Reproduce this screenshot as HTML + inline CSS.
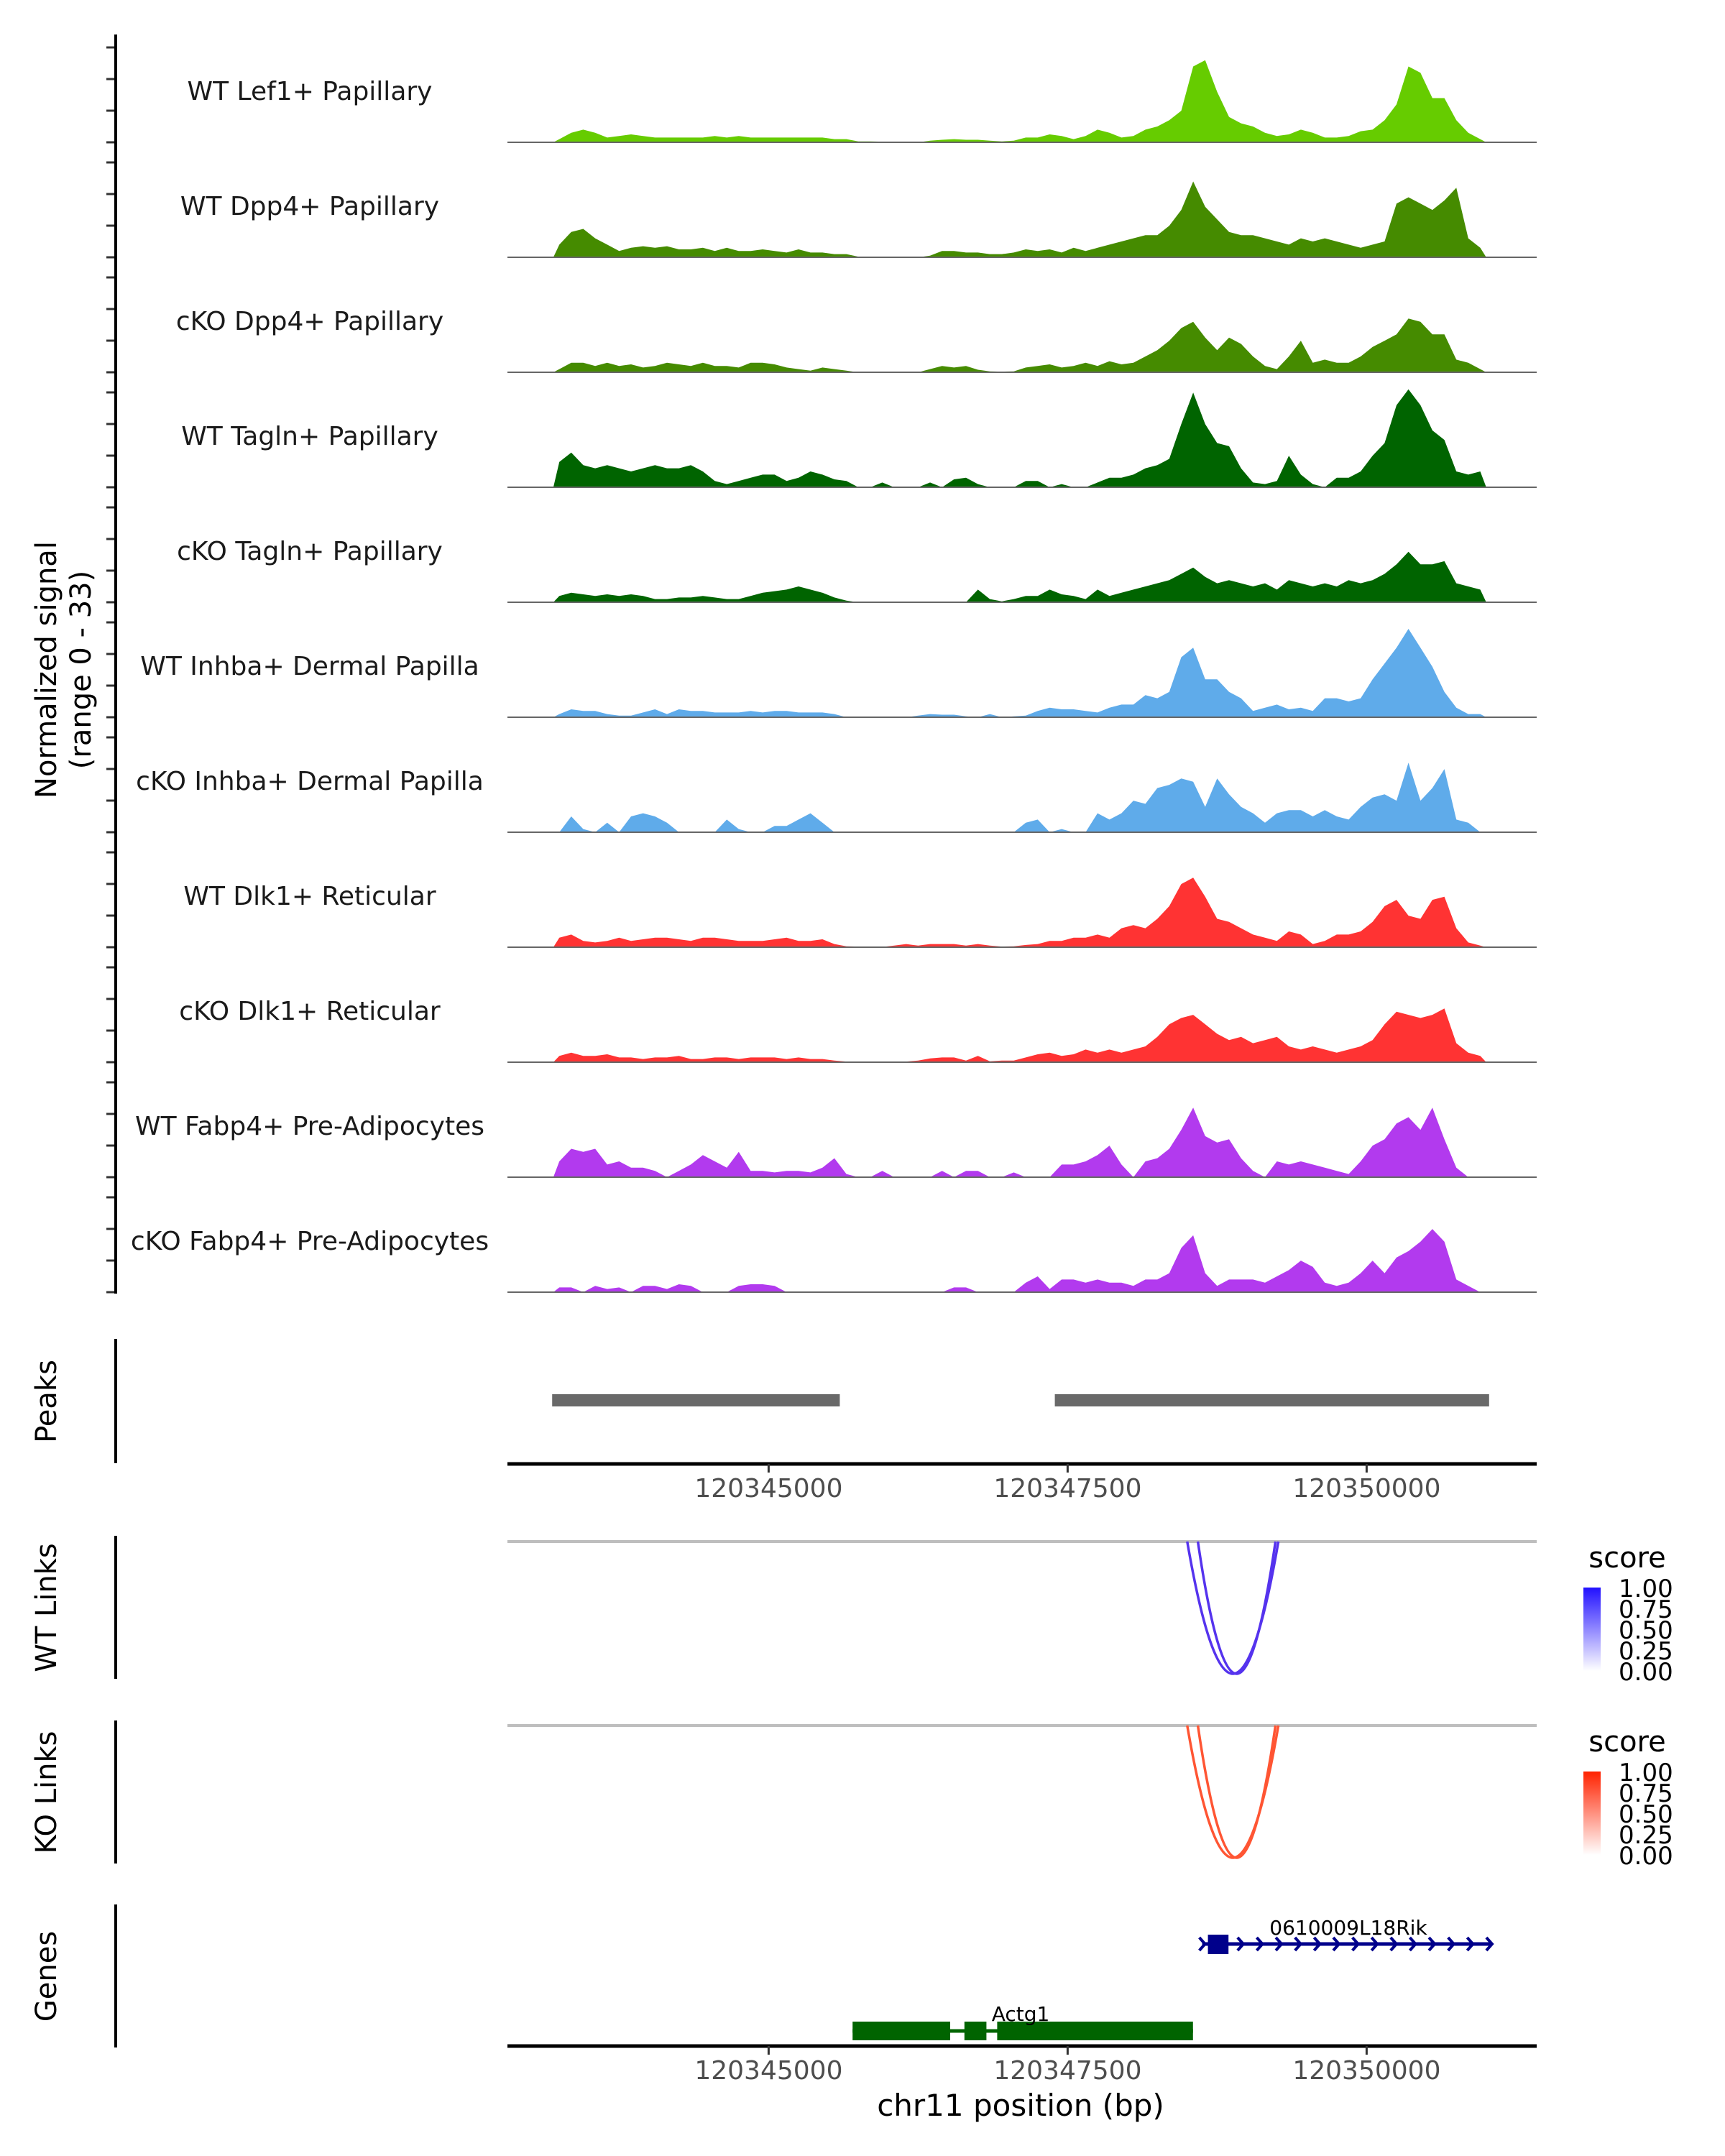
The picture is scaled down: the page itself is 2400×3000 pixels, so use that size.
<!DOCTYPE html>
<html><head><meta charset="utf-8">
<style>
html,body{margin:0;padding:0;background:#fff;}
svg{display:block;font-family:"DejaVu Sans","Liberation Sans",sans-serif;}
</style></head>
<body>
<svg id="chart" width="2400" height="3000" viewBox="0 0 2400 3000" xmlns="http://www.w3.org/2000/svg">
  <rect x="0" y="0" width="2400" height="3000" fill="#fff"/>
  <g id="tracks"></g>
  <g id="axes"></g>
  <g id="peaks"></g>
  <g id="links"></g>
  <g id="genes"></g>
  <text x="0" y="0" transform="translate(78,932) rotate(-90)" text-anchor="middle" font-size="40" fill="#000">Normalized signal</text>
  <text x="0" y="0" transform="translate(126,932) rotate(-90)" text-anchor="middle" font-size="40" fill="#000">(range 0 - 33)</text>
  <text x="0" y="0" transform="translate(78,1950) rotate(-90)" text-anchor="middle" font-size="40" fill="#000">Peaks</text>
  <text x="0" y="0" transform="translate(78,2237) rotate(-90)" text-anchor="middle" font-size="40" fill="#000">WT Links</text>
  <text x="0" y="0" transform="translate(78,2494) rotate(-90)" text-anchor="middle" font-size="40" fill="#000">KO Links</text>
  <text x="0" y="0" transform="translate(78,2750) rotate(-90)" text-anchor="middle" font-size="40" fill="#000">Genes</text>
  <text x="1420" y="2944" text-anchor="middle" font-size="42" fill="#000">chr11 position (bp)</text>
</svg>
<script>
const NS = "http://www.w3.org/2000/svg";
// ---- data ----
const binStart = 120343200;
const binSize = 100;
const trackNames = ["WT Lef1+ Papillary","WT Dpp4+ Papillary","cKO Dpp4+ Papillary","WT Tagln+ Papillary","cKO Tagln+ Papillary","WT Inhba+ Dermal Papilla","cKO Inhba+ Dermal Papilla","WT Dlk1+ Reticular","cKO Dlk1+ Reticular","WT Fabp4+ Pre-Adipocytes","cKO Fabp4+ Pre-Adipocytes"];
const trackColors = ["#66cc00","#458b00","#458b00","#006400","#006400","#5fabea","#5fabea","#ff3333","#ff3333","#b23aee","#b23aee"];
const sigLef1WT = [1,3,4,3,1.5,2,2.5,2,1.5,1.5,1.5,1.5,1.5,2,1.5,2,1.5,1.5,1.5,1.5,1.5,1.5,1.5,1,1,0.3,0.3,0.2,0.1,0,0,0.5,0.8,1,0.8,0.8,0.5,0.3,0.5,1.5,1.5,2.5,2,1,2,4,3,1.5,2,4,5,7,10,24,26,16,8,6,5,3,2,2.5,4,3,1.5,1.5,2,3.5,4,7,12,24,22,14,14,7,3,1];
const sigDpp4WT = [4,8,9,6,4,2,3,3.5,3,3.5,2.5,2.5,3,2,3,2,2,2.5,2,1.5,2.5,1.5,1.5,1,1,0.2,0.2,0,0,0,0,0.5,2,2,1.5,1.5,1,1,1.5,2.5,2,2.5,1.5,3,2,3,4,5,6,7,7,10,15,24,16,12,8,7,7,6,5,4,6,5,6,5,4,3,4,5,17,19,17,15,18,22,6,3];
const sigDpp4KO = [1,3,3,2,3,2,2.5,1.5,2,3,2.5,2,3,2,2,1.5,3,3,2.5,1.5,1,0.5,1.5,1,0.5,0,0,0,0,0,0,1,2,1.5,2,0.8,0.3,0.2,0.3,1.5,2,2.5,1.5,2,3,2,3.5,2.5,3,5,7,10,14,16,11,7,11,9,5,2,1,5,10,3,4,3,3,5,8,10,12,17,16,12,12,4,3,1];
const sigTaglnWT = [8,11,7,6,7,6,5,6,7,6,6,7,5,2,1,2,3,4,4,2,3,5,4,2.5,2,0,0,1.5,0,0,0,1.5,0,2.5,3,1,0,0,0,2,2,0,1,0,0,1.5,3,3,4,6,7,9,20,30,20,14,13,6,1.5,1,2,10,4,1,0,3,3,5,10,14,26,31,26,18,15,5,4,5];
const sigTaglnKO = [2,3,2.5,2,2.5,2,2.5,2,1,1,1.5,1.5,2,1.5,1,1,2,3,3.5,4,5,4,3,1.5,0.5,0,0,0,0,0,0,0,0,0,0,4,1,0.3,1,2,2,4,2.5,2,1,4,2,3,4,5,6,7,9,11,8,6,7,6,5,6,4,7,6,5,6,5,7,6,7,9,12,16,12,12,13,6,5,4];
const sigInhbaWT = [1,2.5,2,2,1,0.5,0.5,1.5,2.5,1,2.5,2,2,1.5,1.5,1.5,2,1.5,2,2,1.5,1.5,1.5,1,0,0,0,0,0,0,0.5,1,0.8,0.8,0.3,0,1,0,0.3,0.5,2,3,2.5,2.5,2,1.5,3,4,4,7,6,8,19,22,12,12,8,6,2,3,4,2.5,3,2,6,6,5,6,12,17,22,28,22,16,8,3,1,1];
const sigInhbaKO = [0,5,1,0,3,0,5,6,5,3,0,0,0,0,4,1,0,0,2,2,4,6,3,0,0,0,0,0,0,0,0,0,0,0,0,0,0,0,0,3,4,0,1,0,0,6,4,6,10,9,14,15,17,16,8,17,12,8,6,3,6,7,7,5,7,5,4,8,11,12,10,22,10,14,20,4,3,0];
const sigDlk1WT = [3,4,2,1.5,2,3,2,2.5,3,3,2.5,2,3,3,2.5,2,2,2,2.5,3,2,2,2.5,1,0.3,0.2,0.2,0.1,0.5,1,0.5,1,1,1,0.5,1,0.5,0.2,0.3,0.7,1,2,2,3,3,4,3,6,7,6,9,13,20,22,16,9,8,6,4,3,2,5,4,1,2,4,4,5,8,13,15,10,9,15,16,6,1.5,0.5];
const sigDlk1KO = [2,3,2,2,2.5,1.5,1.5,1,1.5,1.5,2,1,1,1.5,1.5,1,1.5,1.5,1.5,1,1.5,1,1,0.5,0.2,0.2,0.2,0.2,0.2,0.2,0.5,1.2,1.5,1.5,0.5,2,0.3,0.5,0.5,1.5,2.5,3,2,2.5,4,3,4,3,4,5,8,12,14,15,12,9,7,8,6,7,8,5,4,5,4,3,4,5,7,12,16,15,14,15,17,6,3,2];
const sigFabp4WT = [5,9,8,9,4,5,3,3,2,0,2,4,7,5,3,8,2,2,1.5,2,2,1.5,3,6,1,0,0,2,0,0,0,0,2,0,2,2,0,0,1.5,0,0,0,4,4,5,7,10,4,0,5,6,9,15,22,13,11,12,6,2,0,5,4,5,4,3,2,1,5,10,12,17,19,15,22,12,3,0,0];
const sigFabp4KO = [1.5,1.5,0,2,1,1.5,0,2,2,1,2.5,2,0,0,0,2,2.5,2.5,2,0,0,0,0,0,0,0,0,0,0,0,0,0,0,1.5,1.5,0,0,0,0,3,5,1,4,4,3,4,3,3,2,4,4,6,14,18,6,2,4,4,4,3,5,7,10,8,3,2,3,6,10,6,11,13,16,20,16,4,2,0];
const trackSignals = [sigLef1WT,sigDpp4WT,sigDpp4KO,sigTaglnWT,sigTaglnKO,sigInhbaWT,sigInhbaKO,sigDlk1WT,sigDlk1KO,sigFabp4WT,sigFabp4KO];
const signalMax = 33;
const xTicks = [120345000,120347500,120350000];
const peakStarts = [120343190,120347393];
const peakEnds = [120345595,120351024];
const wtLinkStarts = [120348500,120348589];
const wtLinkEnds = [120349262,120349238];
const koLinkStarts = [120348500,120348589];
const koLinkEnds = [120349262,120349238];
const legendTicks = ["1.00","0.75","0.50","0.25","0.00"];
const geneRikStart = 120348625, geneRikEnd = 120351048, geneRikExonStart = 120348673, geneRikExonEnd = 120348845;
const actgStart = 120345702, actgEnd = 120348548;
const actgExonStarts = [120345702,120346637,120346911];
const actgExonEnds = [120346518,120346821,120348548];

// ---- scales ----
const plotL = 706, plotR = 2138;
function xs(bp){ return 1069.4 + (bp - 120345000) * 0.1664; }
const trackBase0 = 198, trackStep = 160, trackH = 145;
function ys(v, k){ return trackBase0 + k*trackStep - v / signalMax * trackH; }
function mk(tag, attrs, parent){ const e = document.createElementNS(NS, tag); for (const a in attrs) e.setAttribute(a, attrs[a]); parent.appendChild(e); return e; }

const gT = document.getElementById('tracks');
const gA = document.getElementById('axes');
trackSignals.forEach(function(sig, k){
  const base = trackBase0 + k*trackStep;
  let d = "M" + xs(binStart).toFixed(1) + "," + base;
  sig.forEach(function(v, i){
    const xc = xs(binStart + (i+0.5)*binSize);
    d += " L" + xc.toFixed(1) + "," + ys(v,k).toFixed(1);
  });
  d += " L" + xs(binStart + sig.length*binSize).toFixed(1) + "," + base + " Z";
  const p = mk('path', {d: d, fill: trackColors[k]}, gT);
  
  
  const bl = mk('line', {x1: plotL, x2: plotR, y1: base, y2: base, stroke: '#666', 'stroke-width': 2}, gT);
  
  
  const t = mk('text', {x: 431, y: base - 59, 'text-anchor': 'middle', 'font-size': 36, fill: '#1a1a1a'}, gT);
  t.textContent = trackNames[k];
  
  
  for (let j = 0; j < 4; j++){
    const ty = base - j*44;
    const tk = mk('line', {x1: 148, x2: 161, y1: ty, y2: ty, stroke: '#333', 'stroke-width': 3}, gA);
    
    
  }
});
// left axis lines
[[48,1800],[1863,2036],[2137,2336],[2394,2593],[2650,2849]].forEach(function(r){
  const l = mk('line', {x1: 161, x2: 161, y1: r[0], y2: r[1], stroke: '#000', 'stroke-width': 4}, gA);
  
  
});
// x axes
[[2037,2070],[2847,2880]].forEach(function(r){
  const l = mk('line', {x1: plotL, x2: plotR, y1: r[0], y2: r[0], stroke: '#000', 'stroke-width': 5}, gA);
  
  
  xTicks.forEach(function(v){
    const tk = mk('line', {x1: xs(v), x2: xs(v), y1: r[0], y2: r[0]+12, stroke: '#333', 'stroke-width': 3}, gA);
    
    
    const tl = mk('text', {x: xs(v), y: r[1]+13, 'text-anchor': 'middle', 'font-size': 36, fill: '#4d4d4d'}, gA);
    tl.textContent = String(v);
    
    
  });
});
// peaks
const gP = document.getElementById('peaks');
peakStarts.forEach(function(s, i){
  const r = mk('rect', {x: xs(s), y: 1940, width: xs(peakEnds[i]) - xs(s), height: 17, fill: '#696969'}, gP);
  
  
});
// links
const gL = document.getElementById('links');
function linkPanel(top, bottom, starts, ends, color, defId, topColor){
  const bl = mk('line', {x1: plotL, x2: plotR, y1: top, y2: top, stroke: '#bebebe', 'stroke-width': 4}, gL);
  
  
  starts.forEach(function(s, i){
    const x1 = xs(s), x2 = xs(ends[i]);
    const cx = (x1 + x2) / 2;
    const d = "M" + x1 + "," + top + " Q" + cx + "," + (2*bottom - top) + " " + x2 + "," + top;
    const p = mk('path', {d: d, fill: 'none', stroke: color, 'stroke-width': 3.5}, gL);
    
    
  });
  const lt = top + 36;
  const t = mk('text', {x: 2264, y: lt, 'text-anchor': 'middle', 'font-size': 40, fill: '#000'}, gL);
  t.textContent = 'score';
  
  
  const defs = mk('defs', {}, gL);
  const lg = mk('linearGradient', {id: defId, x1: 0, y1: 0, x2: 0, y2: 1}, defs);
  mk('stop', {offset: '0', 'stop-color': topColor}, lg);
  mk('stop', {offset: '1', 'stop-color': '#ffffff'}, lg);
  const cb = mk('rect', {x: 2203, y: top + 64, width: 24, height: 116, fill: 'url(#' + defId + ')'}, gL);
  
  
  legendTicks.forEach(function(lbl, j){
    const ty = top + 65 + j*29;
    const tx = mk('text', {x: 2252, y: ty + 12, 'font-size': 34, fill: '#000'}, gL);
    tx.textContent = lbl;
    
    
  });
}
linkPanel(2145, 2329, wtLinkStarts, wtLinkEnds, '#5533ee', 'gradWT', '#2211ff');
linkPanel(2401, 2585, koLinkStarts, koLinkEnds, '#ff5533', 'gradKO', '#ff2200');
// genes
const gG = document.getElementById('genes');
(function(){
  const y = 2705;
  const ln = mk('line', {x1: xs(geneRikStart), x2: xs(geneRikEnd), y1: y, y2: y, stroke: '#00008b', 'stroke-width': 5}, gG);
  
  
  const ex = mk('rect', {x: xs(geneRikExonStart), y: y-13, width: xs(geneRikExonEnd)-xs(geneRikExonStart), height: 27, fill: '#00008b'}, gG);
  
  
  let d = "";
  for (let bp = geneRikStart; bp <= geneRikEnd; bp += 160){
    const x = xs(bp);
    d += "M" + (x-4) + "," + (y-9) + " L" + (x+4) + "," + y + " L" + (x-4) + "," + (y+9) + " ";
  }
  const ch = mk('path', {d: d, fill: 'none', stroke: '#00008b', 'stroke-width': 4}, gG);
  
  
  const t = mk('text', {x: 1876, y: 2692, 'text-anchor': 'middle', 'font-size': 28, fill: '#000'}, gG);
  t.textContent = '0610009L18Rik';
  
  
  const y2 = 2826;
  const l2 = mk('line', {x1: xs(actgStart), x2: xs(actgEnd), y1: y2, y2: y2, stroke: '#006400', 'stroke-width': 5}, gG);
  
  
  actgExonStarts.forEach(function(s, i){
    const r = mk('rect', {x: xs(s), y: y2-13, width: xs(actgExonEnds[i])-xs(s), height: 26, fill: '#006400'}, gG);
    
    
  });
  const t2 = mk('text', {x: 1420, y: 2812, 'text-anchor': 'middle', 'font-size': 28, fill: '#000'}, gG);
  t2.textContent = 'Actg1';
  
  
})();
</script>
</body></html>
